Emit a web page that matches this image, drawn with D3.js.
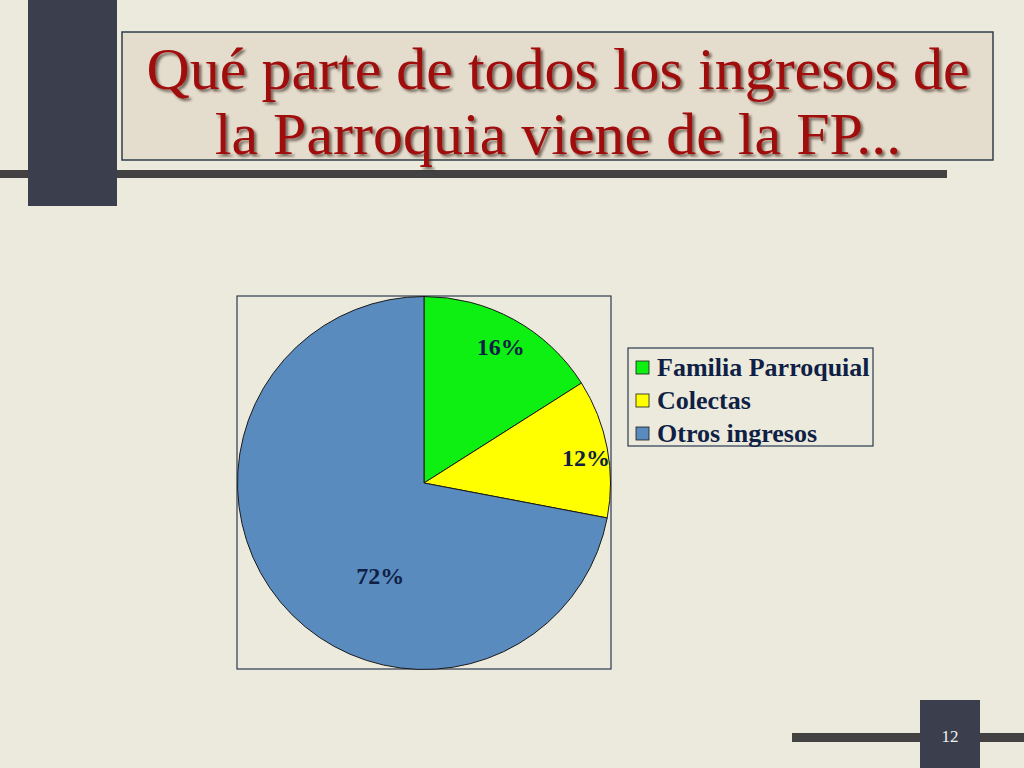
<!DOCTYPE html>
<html>
<head>
<meta charset="utf-8">
<script src="https://cdn.jsdelivr.net/npm/d3@7"></script>
<style>
  html, body { margin: 0; padding: 0; background: #ECEADC; }
  svg { display: block; }
</style>
</head>
<body>
<svg id="chart" width="1024" height="768"></svg>
<script>
// ---- data ----
const categories = ["Familia Parroquial", "Colectas", "Otros ingresos"];
const values = [16, 12, 72];
const labels = ["16%", "12%", "72%"];
const colors = ["#0EF012", "#FFFF00", "#5A8BBF"];
const titleLines = ["Qué parte de todos los ingresos de", "la Parroquia viene de la FP..."];
const pageNumber = "12";

const svg = d3.select("#chart");
const serif = "'Liberation Serif', 'Times New Roman', serif";

const defs = svg.append("defs");
const f = defs.append("filter").attr("id", "shadow").attr("x", "-5%").attr("y", "-20%").attr("width", "110%").attr("height", "140%");
f.append("feDropShadow").attr("dx", 2.5).attr("dy", 2.5).attr("stdDeviation", 1)
  .attr("flood-color", "#2a1a10").attr("flood-opacity", 0.6);

// background
svg.append("rect").attr("width", 1024).attr("height", 768).attr("fill", "#ECEADC");

// decorative: horizontal bar under title, dark block on left
svg.append("rect").attr("x", 0).attr("y", 170).attr("width", 947).attr("height", 8).attr("fill", "#424242");
svg.append("rect").attr("x", 28).attr("y", 0).attr("width", 89).attr("height", 206).attr("fill", "#3B3E4C");

// title box
svg.append("rect").attr("x", 122).attr("y", 32).attr("width", 871).attr("height", 128)
  .attr("fill", "#E4DCCD").attr("stroke", "#2F3F4A").attr("stroke-width", 1.5);

const titleG = svg.append("g").attr("filter", "url(#shadow)");
titleLines.forEach((t, i) => {
  titleG.append("text").attr("x", 558).attr("y", 89 + i * 65)
    .attr("text-anchor", "middle").attr("font-family", serif)
    .attr("font-size", 60).attr("fill", "#A00A0A").text(t);
});

// pie frame
const frame = { x: 237, y: 296, w: 374, h: 373 };
svg.append("rect").attr("x", frame.x).attr("y", frame.y).attr("width", frame.w).attr("height", frame.h)
  .attr("fill", "none").attr("stroke", "#2A3A50").attr("stroke-width", 1.2);

const cx = 424, cy = 483, r = 186.5;
const pie = d3.pie().sort(null).value(d => d)(values);
const arc = d3.arc().innerRadius(0).outerRadius(r);
const pieG = svg.append("g").attr("transform", `translate(${cx},${cy})`);
pieG.selectAll("path").data(pie).join("path")
  .attr("d", arc).attr("fill", (d, i) => colors[i])
  .attr("stroke", "#1a1a1a").attr("stroke-width", 1);

// label placement (radius fraction, angular shift in radians)
const labelRadii = [0.84, 0.88, 0.55];
const labelShift = [0.01, 0.03, -0.44];
pieG.selectAll("text.lbl").data(pie).join("text")
  .attr("class", "lbl")
  .attr("transform", (d, i) => {
    const a = (d.startAngle + d.endAngle) / 2 + labelShift[i];
    const rr = r * labelRadii[i];
    return `translate(${rr * Math.sin(a)},${-rr * Math.cos(a)})`;
  })
  .attr("text-anchor", "middle").attr("dy", "0.35em")
  .attr("font-family", serif)
  .attr("font-weight", "bold").attr("font-size", 24).attr("fill", "#0F1F45")
  .text((d, i) => labels[i]);

// legend
const lg = svg.append("g");
lg.append("rect").attr("x", 628).attr("y", 348).attr("width", 245).attr("height", 98)
  .attr("fill", "none").attr("stroke", "#2A3A50").attr("stroke-width", 1.2);
categories.forEach((c, i) => {
  const y = 367 + i * 33;
  lg.append("rect").attr("x", 636).attr("y", y - 6).attr("width", 13).attr("height", 13)
    .attr("fill", colors[i]).attr("stroke", "#1a1a1a").attr("stroke-width", 0.8);
  lg.append("text").attr("x", 657).attr("y", y).attr("dy", "0.35em")
    .attr("font-family", serif)
    .attr("font-weight", "bold").attr("font-size", 26).attr("fill", "#0F1F45").text(c);
});

// page number decoration
svg.append("rect").attr("x", 792).attr("y", 733).attr("width", 232).attr("height", 9).attr("fill", "#424242");
svg.append("rect").attr("x", 920).attr("y", 700).attr("width", 60).attr("height", 68).attr("fill", "#3B3E4C");
svg.append("text").attr("x", 950).attr("y", 742).attr("text-anchor", "middle")
  .attr("font-family", serif)
  .attr("font-size", 17).attr("fill", "#F0F0F0").text(pageNumber);
</script>
</body>
</html>
